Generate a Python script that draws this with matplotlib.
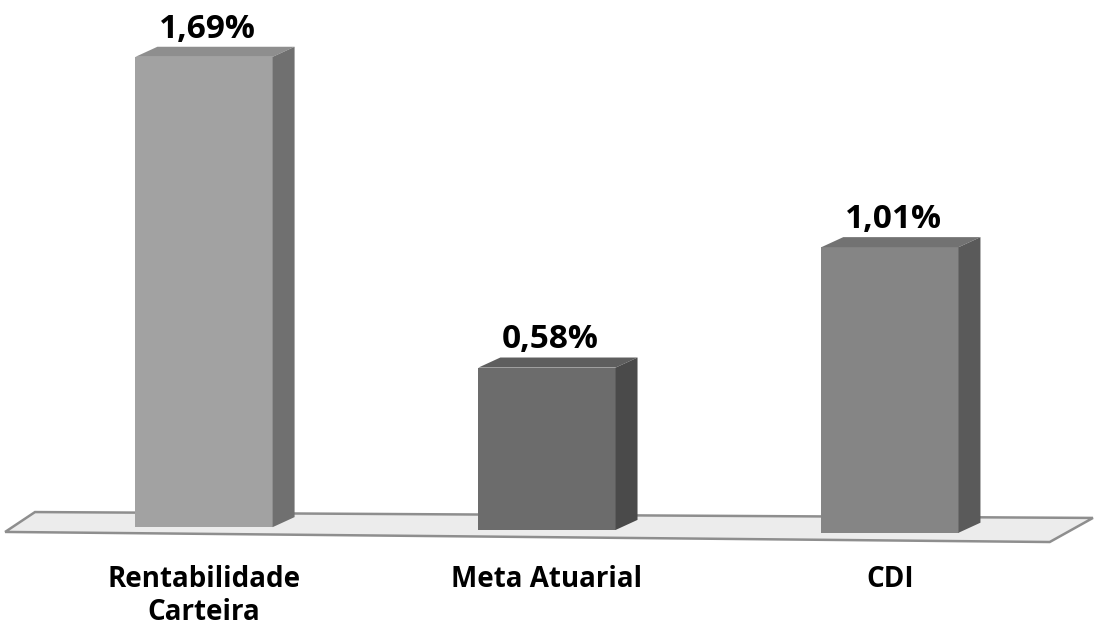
import matplotlib.pyplot as plt
from matplotlib.patches import Polygon

categories = ['Rentabilidade\nCarteira', 'Meta Atuarial', 'CDI']
values = [1.69, 0.58, 1.01]
labels = ['1,69%', '0,58%', '1,01%']

front = ['#a2a2a2', '#6c6c6c', '#858585']
top = ['#8e8e8e', '#5e5e5e', '#727272']
side = ['#707070', '#4a4a4a', '#5a5a5a']

fig = plt.figure(figsize=(10.95, 6.33), dpi=100, facecolor='white')
ax = fig.add_axes([0, 0, 1, 1])
ax.set_xlim(-0.595, 2.598)
ax.set_ylim(-0.368, 1.893)
ax.axis('off')

w = 0.40   # bar width (category units)
dx, dy = 0.064, 0.036  # depth offset

# floor
floor = Polygon([(-0.580, -0.007), (2.466, -0.043), (2.592, 0.043), (-0.493, 0.064)],
                closed=True, facecolor='#ececec', edgecolor='#8e8e8e', lw=1.8, zorder=1)
ax.add_patch(floor)

for i, v in enumerate(values):
    x0, x1 = i - w / 2, i + w / 2
    base = 0.01 - 0.01 * i
    ax.add_patch(Polygon([(x0, base), (x1, base), (x1, v), (x0, v)],
                         facecolor=front[i], edgecolor='none', zorder=3))
    ax.add_patch(Polygon([(x0, v), (x1, v), (x1 + dx, v + dy), (x0 + dx, v + dy)],
                         facecolor=top[i], edgecolor='none', zorder=3))
    ax.add_patch(Polygon([(x1, base), (x1 + dx, base + dy), (x1 + dx, v + dy), (x1, v)],
                         facecolor=side[i], edgecolor='none', zorder=3))
    ax.text(i + 0.01, v + 0.04, labels[i], ha='center', va='bottom',
            fontsize=24, fontweight='bold', family=['Open Sans', 'DejaVu Sans'], color='black')
    ax.text(i, -0.125, categories[i], ha='center', va='top', linespacing=1.2,
            fontsize=20, fontweight='bold', family=['Open Sans', 'DejaVu Sans'], color='black')

fig.savefig('out.png', dpi=100, facecolor='white')
